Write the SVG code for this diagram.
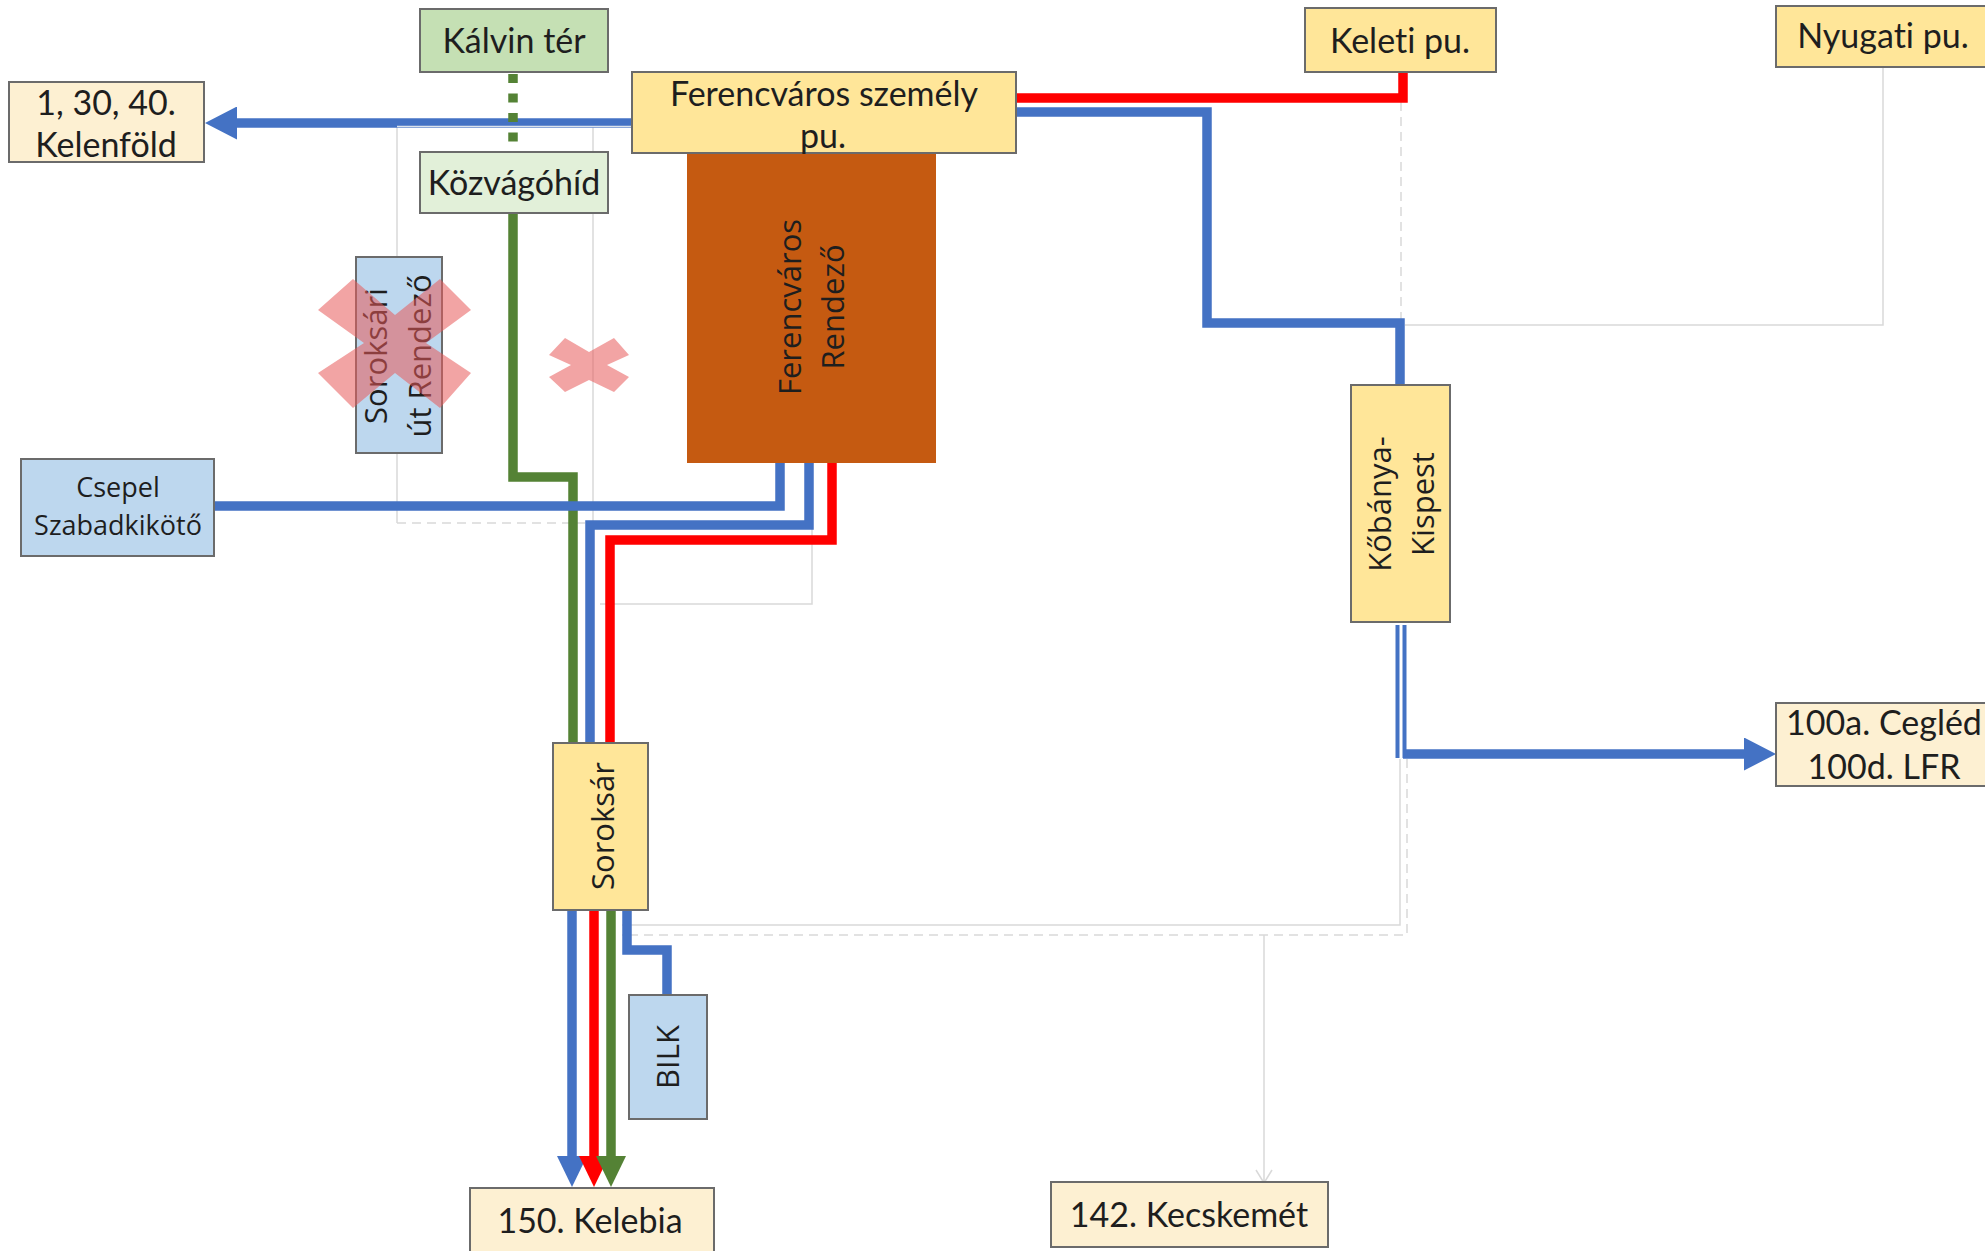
<svg xmlns="http://www.w3.org/2000/svg" width="1985" height="1251" viewBox="0 0 1985 1251">
<defs>
<style>
.box{stroke:#6B6B6B;stroke-width:2}
.y{fill:#FFE699}
.lb{fill:#FDF0D2}
.g1{fill:#C5E0B4}
.g2{fill:#E2F0D9}
.bl{fill:#BDD7EE}
.t{font-family:Lato,"Liberation Sans",sans-serif;font-size:34px;fill:#1E1E1E;text-anchor:middle;font-variant-ligatures:none}
.r{font-family:"Open Sans","Noto Sans",sans-serif;font-size:31px;fill:#1E1E1E;text-anchor:middle}
.ln{fill:none;stroke-width:9.5;stroke-linejoin:miter}
.blue{stroke:#4472C4}
.red{stroke:#FF0000}
.green{stroke:#548235}
.ghost{fill:none;stroke:#D9D9D9;stroke-width:1.5}
.dash{stroke-dasharray:9 6}
.cross{fill:#E85A5A;opacity:0.55}
</style>
<marker id="aB" markerUnits="userSpaceOnUse" markerWidth="32" markerHeight="33" refX="0" refY="16.5" orient="auto"><path d="M0,0 L32,16.5 L0,33 z" fill="#4472C4"/></marker>
<marker id="aBs" markerUnits="userSpaceOnUse" markerWidth="31" markerHeight="30" refX="0" refY="15" orient="auto"><path d="M0,0 L31,15 L0,30 z" fill="#4472C4"/></marker>
<marker id="aR" markerUnits="userSpaceOnUse" markerWidth="31" markerHeight="30" refX="0" refY="15" orient="auto"><path d="M0,0 L31,15 L0,30 z" fill="#FF0000"/></marker>
<marker id="aG" markerUnits="userSpaceOnUse" markerWidth="31" markerHeight="30" refX="0" refY="15" orient="auto"><path d="M0,0 L31,15 L0,30 z" fill="#548235"/></marker>
</defs>
<rect width="1985" height="1251" fill="#FFFFFF"/>

<g id="connectors">
  <path class="ghost" d="M397,126 V523 M593,126 V523"/>
  <path class="ghost dash" d="M397,523 H585"/>
  <path class="ghost" d="M812,525 V604 H600"/>
  <path class="ghost" d="M1883,67 V325 H1405"/>
  <path class="ghost dash" d="M1401,72 V385"/>
  <path class="ghost" d="M1400,759 V925 H622"/>
  <path class="ghost dash" d="M1407,759 V935 H622"/>
  <path class="ghost" d="M1264,935 V1183 M1256,1170 L1264,1183 L1272,1170"/>

  <path class="ln blue" d="M632,123 H237" marker-end="url(#aB)"/>
  <path d="M397,126.5 H632" fill="none" stroke="#DCE3EC" stroke-width="1.5"/>
  <path class="ln green" d="M513,74 V152" stroke-dasharray="9 10.5"/>
  <path class="ln green" d="M513,213 V477 H573 V743"/>
  <path class="ln blue" d="M214,506 H780 V463"/>
  <path class="ln blue" d="M809,463 V525 H590 V743"/>
  <path class="ln red" d="M832,463 V540 H610 V743"/>
  <path class="ln red" d="M1016,98 H1403 V72"/>
  <path class="ln blue" d="M1016,112 H1207 V323 H1400 V385"/>
  <path d="M1397.5,625 V758 M1404.5,625 V758" fill="none" stroke="#4472C4" stroke-width="4"/>
  <path class="ln blue" d="M1403,754 H1744" marker-end="url(#aB)"/>
  <path class="ln blue" d="M572,910 V1156" marker-end="url(#aBs)"/>
  <path class="ln red" d="M594,910 V1156" marker-end="url(#aR)"/>
  <path class="ln green" d="M611,910 V1156" marker-end="url(#aG)"/>
  <path class="ln blue" d="M627,910 V950 H667 V995"/>
</g>

<g id="kelenfold">
  <rect class="box lb" x="9" y="82" width="195" height="80"/>
  <text class="t" x="106" y="115">1, 30, 40.</text>
  <text class="t" x="106" y="157">Kelenföld</text>
</g>
<g id="kalvin-ter">
  <rect class="box g1" x="420" y="9" width="188" height="63"/>
  <text class="t" x="514" y="53">Kálvin tér</text>
</g>
<g id="kozvagohid">
  <rect class="box g2" x="420" y="152" width="188" height="61"/>
  <text class="t" x="514" y="195">Közvágóhíd</text>
</g>
<g id="ferencvaros-rendezo">
  <rect x="687" y="154" width="249" height="309" fill="#C55A11"/>
  <g transform="translate(811,307) rotate(-90)">
    <text class="r" x="0" y="-10">Ferencváros</text>
    <text class="r" x="0" y="33">Rendező</text>
  </g>
</g>
<g id="ferencvaros-szemely">
  <rect class="box y" x="632" y="72" width="384" height="81"/>
  <text class="t" x="824" y="106">Ferencváros személy</text>
  <text class="t" x="823" y="148">pu.</text>
</g>
<g id="keleti">
  <rect class="box y" x="1305" y="8" width="191" height="64"/>
  <text class="t" x="1400" y="53">Keleti pu.</text>
</g>
<g id="nyugati">
  <rect class="box y" x="1776" y="6" width="220" height="61"/>
  <text class="t" x="1883" y="48">Nyugati pu.</text>
</g>
<g id="soroksari-ut-rendezo">
  <rect class="box bl" x="356" y="257" width="86" height="196"/>
  <g transform="translate(399,356) rotate(-90)">
    <text class="r" x="0" y="-12">Soroksári</text>
    <text class="r" x="0" y="32">út Rendező</text>
  </g>
  <polygon class="cross" points="318,310 353,279 395,315 440,279 471,310 426,343 471,373 440,408 395,373 353,408 318,373 364,343"/>
</g>
<g id="closed-link">
  <polygon class="cross" points="549,355 565,338 589,352 614,338 629,355 607,365 629,377 614,392 589,380 565,392 549,377 571,365"/>
</g>
<g id="csepel">
  <rect class="box bl" x="21" y="459" width="193" height="97"/>
  <text class="r" x="118" y="497" style="font-size:27px">Csepel</text>
  <text class="r" x="118" y="535" style="font-size:27px">Szabadkikötő</text>
</g>
<g id="kobanya-kispest">
  <rect class="box y" x="1351" y="385" width="99" height="237"/>
  <g transform="translate(1404,504) rotate(-90)">
    <text class="r" x="0" y="-13">Kőbánya-</text>
    <text class="r" x="0" y="30">Kispest</text>
  </g>
</g>
<g id="cegled">
  <rect class="box lb" x="1776" y="703" width="220" height="83"/>
  <text class="t" x="1884" y="735">100a. Cegléd</text>
  <text class="t" x="1884" y="779">100d. LFR</text>
</g>
<g id="soroksar">
  <rect class="box y" x="553" y="743" width="95" height="167"/>
  <text class="r" transform="translate(614,826) rotate(-90)" x="0" y="0">Soroksár</text>
</g>
<g id="bilk">
  <rect class="box bl" x="629" y="995" width="78" height="124"/>
  <text class="r" transform="translate(679,1057) rotate(-90)" x="0" y="0">BILK</text>
</g>
<g id="kelebia">
  <rect class="box lb" x="470" y="1188" width="244" height="75"/>
  <text class="t" x="590" y="1233">150. Kelebia</text>
</g>
<g id="kecskemet">
  <rect class="box lb" x="1051" y="1182" width="277" height="65"/>
  <text class="t" x="1189" y="1227">142. Kecskemét</text>
</g>
</svg>
